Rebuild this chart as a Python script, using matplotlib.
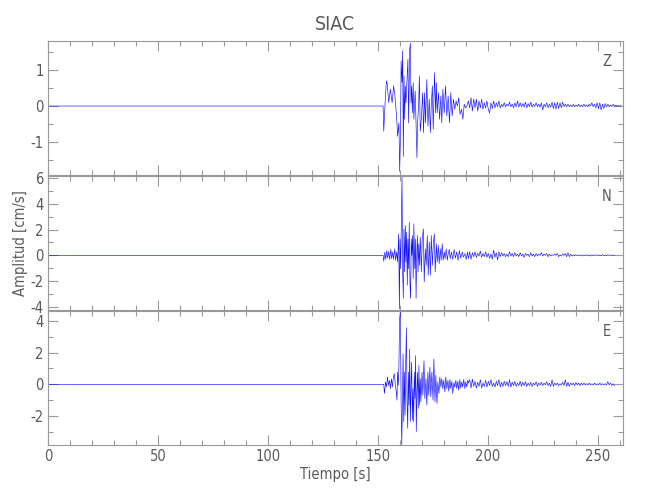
import matplotlib
matplotlib.use('Agg')
import numpy as np
import matplotlib.pyplot as plt
from matplotlib.ticker import MultipleLocator

plt.rcParams['font.family'] = ['DejaVu Sans']
plt.rcParams['font.stretch'] = 'condensed'
plt.rcParams['axes.unicode_minus'] = False

# strong motion part (time [s], amplitude [cm/s])
z_t = [0.0, 152.4, 152.7, 153.3, 153.9, 154.2, 155.0, 155.7, 156.5, 157.2, 157.7, 158.4, 158.7,
       159.0, 159.6, 159.95, 160.3, 160.6, 161.0, 161.3, 161.6, 161.9, 162.2, 162.5, 162.8, 163.3,
       163.7, 164.0, 164.5, 164.8, 165.1, 165.4, 165.7, 166.1, 166.4, 167.0, 167.5, 167.8, 168.1,
       168.6, 168.9, 169.3, 169.8, 170.4, 170.8, 171.3, 171.7, 172.3, 172.8, 173.4, 173.9, 174.3,
       174.8, 175.2, 175.8, 176.3, 176.6, 177.0, 177.6, 178.1, 178.7, 179.1, 179.6, 180.2, 180.8,
       181.4, 182.0, 182.6, 183.2, 183.8, 184.4, 185.0, 185.6, 186.2, 186.8, 187.4, 188.1, 188.7,
       189.3, 189.9, 190.5]
z_a = [0.0, 0.0, -0.70, 0.09, 0.70, 0.65, 0.09, 0.47, 0.09, 0.56, 0.33, -0.19, -0.47,
       -0.84, -0.47, -1.82, -0.84, 1.26, 0.65, 1.54, -1.40, 0.84, -0.37, 0.56, 0.09, 0.74,
       1.30, -0.47, 1.58, 1.75, 0.09, 0.56, -0.19, 0.65, -0.37, 0.42, -0.74, -1.44, -0.47,
       0.09, 0.84, -0.70, -0.37, 0.37, -0.74, 0.37, -0.47, 0.74, -0.56, 0.19, -0.74, 0.0,
       0.56, -0.65, 0.93, -0.19, 0.65, -0.19, 0.37, -0.37, 0.28, -0.47, 0.47, -0.19, 0.56,
       -0.28, 0.28, -0.47, 0.37, -0.28, 0.19, -0.09, 0.14, 0.0, 0.23, -0.23, -0.09, -0.37,
       0.05, -0.05, 0.0]

n_t = [0.0, 152.4, 152.7, 153.2, 153.6, 154.1, 154.5, 155.0, 155.4, 155.9, 156.3, 156.8, 157.2,
       157.7, 158.1, 158.6, 159.0, 159.5, 159.8, 160.1, 160.4, 160.7, 161.0, 161.3, 161.6, 161.9,
       162.2, 162.5, 162.8, 163.1, 163.4, 163.7, 164.0, 164.3, 164.6, 164.9, 165.2, 165.5, 165.8,
       166.1, 166.4, 166.8, 167.1, 167.4, 167.7, 168.0, 168.3, 168.6, 168.9, 169.3, 169.8, 170.2,
       170.7, 171.1, 171.6, 172.0, 172.5, 172.9, 173.4, 173.9, 174.3, 174.8, 175.2, 175.7, 176.1,
       176.6, 177.0, 177.5, 177.9, 178.4, 178.8, 179.3, 179.7, 180.2, 180.6, 181.1, 181.6, 182.0,
       182.5, 182.9, 183.5, 184.1, 184.7, 185.3, 185.9, 186.5, 187.1, 187.7, 188.4, 188.9, 189.6,
       190.2, 190.8]
n_a = [0.0, 0.0, -0.46, 0.26, -0.31, 0.38, -0.21, 0.31, -0.31, 0.46, -0.26, 0.26, -0.31,
       0.51, -0.38, 0.26, -0.51, 1.67, -4.15, 1.28, -1.03, 2.31, 6.08, -1.28, -3.33, 2.05,
       -1.28, 2.31, -0.51, 1.79, -2.31, 1.28, -1.03, 2.56, -2.05, -3.33, 1.28, 0.0, 1.54,
       -1.79, 2.44, -1.03, 1.28, -3.33, 0.0, 1.54, -1.28, 0.90, -0.77, 1.41, -1.28, 1.28,
       2.05, -2.05, 0.51, -0.77, 1.54, -1.54, 1.03, -1.54, 1.54, -0.77, 0.77, 1.67, -1.28,
       0.90, -0.51, 0.77, -0.64, 0.51, -0.38, 0.90, -0.38, 0.26, -0.26, 0.51, -0.38, 0.13,
       0.46, -0.26, 0.26, -0.31, 0.46, -0.21, 0.26, -0.38, 0.38, -0.21, 0.26, -0.13, 0.13,
       -0.31, 0.26]

e_t = [0.0, 152.7, 153.0, 153.5, 153.9, 154.4, 154.8, 155.3, 155.7, 156.2, 156.6, 157.1, 157.5,
       158.0, 158.4, 158.7, 159.0, 159.3, 159.6, 159.9, 160.25, 160.6, 160.9, 161.2, 161.5, 161.8,
       162.1, 162.4, 162.7, 163.0, 163.3, 163.6, 163.9, 164.2, 164.5, 164.8, 165.1, 165.4, 165.7,
       166.0, 166.3, 166.6, 166.9, 167.2, 167.5, 167.8, 168.1, 168.4, 168.7, 169.0, 169.3, 169.6,
       170.1, 170.5, 171.0, 171.4, 171.9, 172.3, 172.8, 173.2, 173.7, 174.1, 174.6, 175.1, 175.5,
       176.0, 176.4, 176.9, 177.3, 177.8, 178.2, 178.7, 179.1, 179.6, 180.0, 180.5, 180.9, 181.4,
       181.9, 182.3, 182.8, 183.2, 183.7, 184.1, 184.6, 185.0, 185.5, 185.9, 186.4, 186.8, 187.3,
       187.7, 188.2, 188.6, 189.1, 189.6, 190.0, 190.5, 190.9]
e_a = [0.0, 0.0, -0.58, 0.15, -0.17, 0.46, -0.06, 0.25, -0.27, 0.35, -0.17, 0.46, 0.67,
       -0.06, -0.48, -1.00, 0.77, -0.06, 1.19, 4.10, 4.60, -1.31, -3.80, -0.90, 1.92, -2.35,
       0.77, -1.94, 1.40, 3.58, -1.10, -2.77, 0.77, -1.31, 2.23, -2.35, -0.06, 1.40, -2.25,
       -0.27, -2.35, 0.77, -0.90, 1.81, -2.98, -0.48, 0.77, -1.52, 1.19, -1.31, 0.35, -1.10,
       0.77, -0.69, 1.50, -0.90, 0.35, -1.31, 0.77, -0.69, 1.08, -0.79, 0.77, -1.00, 1.60,
       -1.10, 0.56, -1.21, 0.15, -0.58, 0.46, -0.17, 0.35, -0.27, 0.25, -0.48, 0.46, -0.27,
       0.25, -0.44, 0.31, -0.27, 0.19, -0.58, 0.10, -0.17, 0.25, -0.27, 0.19, -0.38, 0.31,
       -0.23, 0.15, -0.17, 0.31, -0.27, 0.15, -0.17, 0.25]

# coda, sampled every CODA_DT seconds from CODA_T0
CODA_T0 = 191.2
CODA_DT = 0.604
z_coda = [0.14, -0.05, 0.23, -0.14, 0.20, -0.05, 0.19, -0.14, 0.14, -0.05, 0.19, -0.09, 0.09, -0.05, 0.14, -0.09,
          -0.20, 0.09, -0.07, 0.14, -0.05, 0.09, -0.02, 0.14, -0.05, 0.05, -0.02, 0.09, -0.02, 0.05, 0.0,
          0.11, -0.02, 0.05, -0.05, 0.09, -0.02, 0.14, -0.03, 0.09, -0.02, 0.07, -0.03, 0.11, -0.05, 0.07,
          -0.02, 0.11, -0.03, 0.05, -0.01, 0.09, -0.02, 0.05, -0.03, 0.09, -0.11, 0.05, -0.02, 0.09, -0.05,
          0.05, -0.03, 0.11, -0.07, 0.09, -0.09, 0.11, -0.07, 0.09, -0.05, 0.11, -0.02, 0.05, -0.02, 0.05,
          -0.02, 0.03, -0.02, 0.05, -0.02, 0.03, -0.01, 0.05, -0.02, 0.03, -0.02, 0.05, -0.01, 0.03, -0.02,
          0.05, 0.0, 0.09, -0.02, 0.05, -0.05, 0.09, -0.07, 0.09, -0.11, 0.05, -0.07, 0.07, -0.02, 0.05,
          -0.02, 0.03, -0.01, 0.05, -0.01, 0.03, -0.01, 0.02, -0.01, 0.02]
n_coda = [-0.23, 0.28, -0.31, 0.21, -0.10, 0.28, -0.15, 0.15, -0.05, 0.33, -0.15, 0.15, -0.10, 0.28, -0.15, 0.15,
          -0.23, 0.10, -0.31, 0.41, -0.15, 0.21, -0.36, 0.28, -0.10, 0.21, -0.05, 0.15, -0.10, 0.10, -0.10,
          0.28, -0.05, 0.15, -0.10, 0.21, -0.05, 0.10, -0.10, 0.21, -0.05, 0.10, -0.15, 0.15, 0.0, 0.10,
          -0.10, 0.21, -0.05, 0.10, -0.10, 0.15, -0.05, 0.10, 0.0, 0.21, -0.05, 0.10, 0.0, 0.15, -0.10,
          0.10, -0.05, 0.05, 0.0, 0.10, 0.0, 0.15, -0.10, 0.05, -0.05, 0.10, 0.0, 0.15, -0.10, 0.21,
          -0.10, 0.10, -0.05, 0.03, -0.03, 0.05, -0.03, 0.03, -0.03, 0.05, -0.05, 0.03, -0.03, 0.05, -0.03,
          0.03, -0.05, 0.05, -0.03, 0.03, 0.0, 0.05, -0.03, 0.03, -0.03, 0.05, -0.03, 0.03, -0.03, 0.05,
          0.0, 0.03, -0.03, 0.03, 0.0]
e_coda = [0.08, 0.29, -0.23, 0.33, -0.13, 0.19, -0.23, 0.13, -0.13, 0.29, -0.23, 0.08, -0.13, 0.25, -0.17, 0.19,
          -0.08, 0.29, -0.13, 0.08, -0.17, 0.19, -0.08, 0.29, -0.17, 0.13, -0.13, 0.19, -0.08, 0.17, -0.13,
          0.29, -0.17, 0.13, -0.08, 0.19, -0.13, 0.08, -0.08, 0.19, -0.13, 0.13, -0.08, 0.17, -0.13, 0.08,
          -0.08, 0.13, -0.13, 0.08, -0.04, 0.17, -0.13, 0.08, -0.04, 0.13, -0.08, 0.08, -0.04, 0.17, -0.08,
          0.08, -0.13, 0.29, -0.13, 0.08, -0.04, 0.08, -0.08, 0.04, -0.04, 0.13, -0.08, 0.29, -0.13, 0.13,
          -0.13, 0.08, -0.04, 0.08, -0.08, 0.13, -0.04, 0.08, -0.08, 0.08, -0.04, 0.08, -0.04, 0.04, -0.04,
          0.08, -0.04, 0.04, -0.04, 0.08, -0.04, 0.04, -0.04, 0.08, -0.04, 0.04, -0.04, 0.04, -0.04, 0.17,
          -0.04, 0.08, -0.08, 0.04, -0.08]

components = ['Z', 'N', 'E']

TXT = '#5a5a5a'
AXC = '#999999'

def full_trace(t, a, coda):
    tc = CODA_T0 + CODA_DT * np.arange(len(coda))
    return np.concatenate([t, tc]), np.concatenate([a, coda])

traces = [full_trace(z_t, z_a, z_coda), full_trace(n_t, n_a, n_coda), full_trace(e_t, e_a, e_coda)]
ylims = [(-1.92, 1.81), (-4.23, 6.15), (-3.83, 4.63)]
ymaj = [1, 2, 2]
ymin = [0.5, 1, 1]

fig = plt.figure(figsize=(6.5, 5), dpi=100)
left, width = 0.074, 0.884
bottoms = [0.65, 0.38, 0.11]
h = 0.268

axes = []
for i, comp in enumerate(components):
    ax = fig.add_axes([left, bottoms[i], width, h])
    t, a = traces[i]
    ax.plot(t, a, color='#1010ff', lw=0.45)
    ax.set_xlim(0, 261.4)
    ax.set_ylim(*ylims[i])
    ax.xaxis.set_major_locator(MultipleLocator(50))
    ax.xaxis.set_minor_locator(MultipleLocator(10))
    ax.yaxis.set_major_locator(MultipleLocator(ymaj[i]))
    ax.yaxis.set_minor_locator(MultipleLocator(ymin[i]))
    ax.tick_params(which='both', direction='in', top=True, right=True,
                   colors=AXC, labelcolor=TXT, labelsize=10.5, width=0.8, pad=3)
    ax.tick_params(which='major', length=7)
    ax.tick_params(which='minor', length=3.5)
    for s in ax.spines.values():
        s.set_color(AXC)
        s.set_linewidth(0.8)
    if i < 2:
        ax.tick_params(labelbottom=False)
    ax.text(0.972, 0.848, comp, transform=ax.transAxes, ha='center', va='center',
            color=TXT, fontsize=10.5)
    axes.append(ax)

axes[0].set_title('SIAC', color=TXT, fontsize=14, pad=8)
axes[1].set_ylabel('Amplitud [cm/s]', color=TXT, fontsize=10.5, va='center')
axes[1].yaxis.set_label_coords(-0.048, 0.5)
axes[2].set_xlabel('Tiempo [s]', color=TXT, fontsize=10.5, labelpad=2)

fig.savefig('out.png', dpi=100)
